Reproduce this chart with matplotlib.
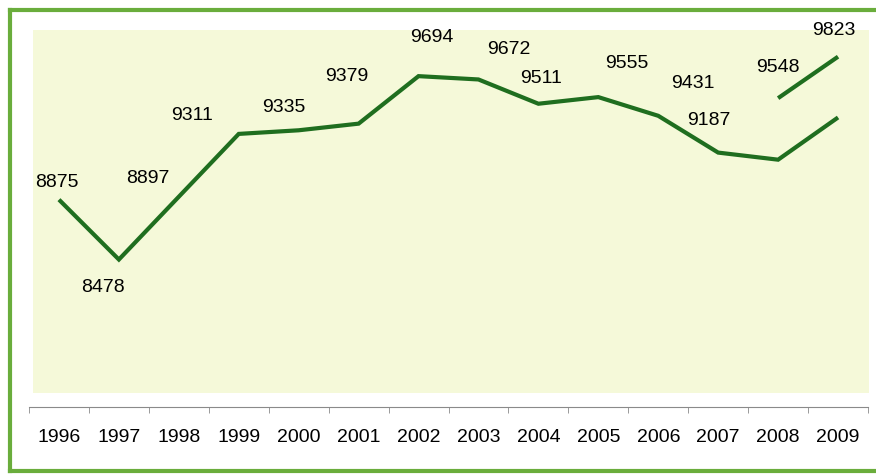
import matplotlib.pyplot as plt
from matplotlib.patches import Rectangle
from matplotlib.lines import Line2D

years = [1996, 1997, 1998, 1999, 2000, 2001, 2002, 2003, 2004, 2005, 2006, 2007, 2008, 2009]
labels = [8875, 8478, 8897, 9311, 9335, 9379, 9694, 9672, 9511, 9555, 9431, 9187, 9548, 9823]

# main line as drawn (the 1998 point sits on the straight run from 1997 to 1999)
main_years = [1996, 1997, 1999, 2000, 2001, 2002, 2003, 2004, 2005, 2006, 2007, 2008, 2009]
main_vals = [8875, 8478, 9311, 9335, 9379, 9694, 9672, 9511, 9555, 9431, 9187, 9140, 9420]

# short separate segment at the end
upper_years = [2008, 2009]
upper_vals = [9548, 9823]

# label offsets in pixels from the point on the line
offsets = [(-2, 17), (-16, -28), (-31, 18), (-47, 18), (-15, 23), (-12, 47), (13, 39),
           (30, 30), (3, 25), (28, 34), (35, 32), (-9, 32), (0, 31), (-4, 26)]

green = "#1f6e1f"

plt.rcParams['font.family'] = ['Liberation Sans', 'DejaVu Sans']

fig = plt.figure(figsize=(8.76, 4.76), dpi=100)
W, H = 876, 476

# pale background panel
fig.patches.append(Rectangle((33 / W, 1 - 393 / H), (869 - 33) / W, (393 - 30) / H,
                             transform=fig.transFigure, facecolor="#f5f9d9",
                             edgecolor="none", zorder=0))

# green frame (left, top, bottom)
frame = "#6aad3c"
fig.lines.append(Line2D([10 / W, 10 / W], [1 - 10 / H, 1 - 471 / H], transform=fig.transFigure,
                        color=frame, lw=3, zorder=0))
fig.lines.append(Line2D([10 / W, 1], [1 - 10 / H, 1 - 10 / H], transform=fig.transFigure,
                        color=frame, lw=3, zorder=0))
fig.lines.append(Line2D([10 / W, 1], [1 - 471 / H, 1 - 471 / H], transform=fig.transFigure,
                        color=frame, lw=3, zorder=0))

ax = fig.add_axes([29 / W, 1 - 407 / H, (868 - 29) / W, (407 - 30) / H])
ax.set_zorder(2)
ax.patch.set_alpha(0)

ax.plot(main_years, main_vals, color=green, lw=3, solid_capstyle="butt", solid_joinstyle="miter")
ax.plot(upper_years, upper_vals, color=green, lw=3, solid_capstyle="butt")

# value labels
for i, (yr, v) in enumerate(zip(years, labels)):
    if yr in upper_years:
        yv = upper_vals[upper_years.index(yr)]
    elif yr == 1998:
        yv = (main_vals[1] + main_vals[2]) / 2
    else:
        yv = main_vals[main_years.index(yr)]
    dx, dy = offsets[i]
    ax.annotate(str(v), (yr, yv), xytext=(dx, dy), textcoords="offset pixels",
                ha="center", va="center", fontsize=14, color="black")

ax.set_xlim(1995.5, 2009.5)
ax.set_ylim(7500, 10000)

for s in ["top", "right", "left"]:
    ax.spines[s].set_visible(False)
ax.spines["bottom"].set_color("#8a8a8a")
ax.spines["bottom"].set_linewidth(0.8)

ax.set_yticks([])
ax.set_xticks(years)
ax.set_xticklabels([str(y) for y in years], fontsize=14)
ax.set_xticks([y - 0.5 for y in years] + [2009.5], minor=True)
ax.tick_params(axis="x", which="major", length=0, pad=16)
ax.tick_params(axis="x", which="minor", length=4, color="#8a8a8a", direction="out")

fig.savefig("out.png", dpi=100)
